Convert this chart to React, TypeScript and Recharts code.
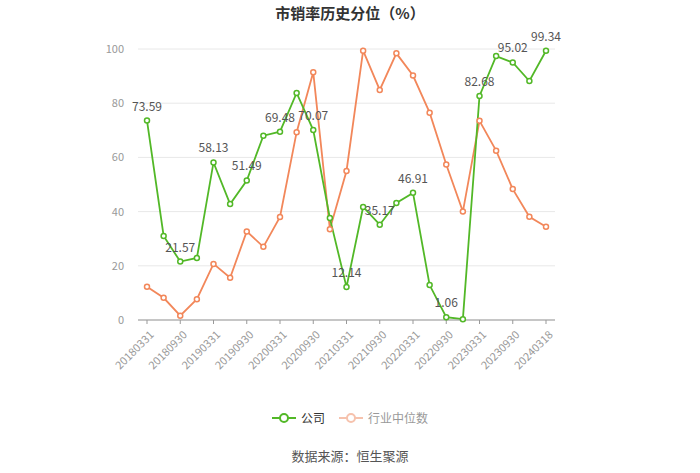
import { LineChart, Line, XAxis, YAxis, CartesianGrid, LabelList } from 'recharts';

const dates = [
  '20180331', '20180630', '20180930', '20181231',
  '20190331', '20190630', '20190930', '20191231',
  '20200331', '20200630', '20200930', '20201231',
  '20210331', '20210630', '20210930', '20211231',
  '20220331', '20220630', '20220930', '20221231',
  '20230331', '20230630', '20230930', '20231231',
  '20240318',
];

const company = [
  73.59, 31.0, 21.57, 22.9, 58.13, 42.8, 51.49, 68.0, 69.48, 83.8, 70.07, 37.6,
  12.14, 41.7, 35.17, 43.2, 46.91, 12.9, 1.06, 0.3, 82.68, 97.4, 95.02, 88.2, 99.34,
];

const industry = [
  12.3, 8.2, 1.6, 7.7, 20.7, 15.6, 32.7, 27.0, 38.0, 69.3, 91.4, 33.5,
  55.0, 99.4, 84.9, 98.4, 90.2, 76.5, 57.4, 40.0, 73.5, 62.5, 48.3, 38.1, 34.4,
];

const yTicks = [0, 20, 40, 60, 80, 100];

const data = dates.map((d, i) => ({ date: d, company: company[i], industry: industry[i] }));

const GREEN = '#52b827';
const ORANGE = '#f2875a';
const FONT = '"Noto Sans CJK SC", "Noto Sans", sans-serif';

function XTick(props: any) {
  const { x, y, payload } = props;
  return (
    <text
      x={x + 4}
      y={y + 6}
      transform={`rotate(-45, ${x + 4}, ${y + 6})`}
      textAnchor="end"
      dominantBaseline="central"
      fontSize={11}
      fill="#999"
      fontFamily={FONT}
    >
      {payload.value}
    </text>
  );
}

function PointLabel(props: any) {
  const { x, y, index, value } = props;
  if (index % 2 !== 0) return null;
  return (
    <text x={x} y={y - 10} textAnchor="middle" fontSize={12} fill="#555" fontFamily={FONT}>
      {value}
    </text>
  );
}

function LegendBox() {
  const item = (color: string, text: string, textColor: string) => (
    <div style={{ display: 'flex', alignItems: 'center', gap: 5 }}>
      <svg width={24} height={12}>
        <line x1={0} y1={6} x2={24} y2={6} stroke={color} strokeWidth={2} />
        <circle cx={12} cy={6} r={4} fill="#fff" stroke={color} strokeWidth={2} />
      </svg>
      <span style={{ fontSize: 12, color: textColor }}>{text}</span>
    </div>
  );
  return (
    <div style={{ display: 'flex', justifyContent: 'center', gap: 14, fontFamily: FONT }}>
      {item(GREEN, '公司', '#333')}
      {item('#f6c2ad', '行业中位数', '#999')}
    </div>
  );
}

export default function App() {
  return (
    <div style={{ position: 'absolute', left: 0, top: 0, width: 700, height: 473, background: '#fff', fontFamily: FONT }}>
      <div style={{ position: 'absolute', top: 2, width: 700, textAlign: 'center', fontSize: 15, fontWeight: 'bold', color: '#333' }}>
        市销率历史分位（%）
      </div>
      <LineChart width={700} height={473} data={data} margin={{ top: 49, right: 145, bottom: 93, left: 98 }}>
        <CartesianGrid vertical={false} stroke="#e8e8e8" />
        <XAxis
          dataKey="date"
          interval={1}
          padding={{ left: 9, right: 9 }}
          tick={<XTick />}
          tickLine={{ stroke: '#999' }}
          axisLine={{ stroke: '#999' }}
          tickSize={4}
          height={60}
        />
        <YAxis
          domain={[0, 100]}
          ticks={yTicks}
          width={40}
          axisLine={false}
          tickLine={false}
          tick={{ fontSize: 11, fill: '#999', fontFamily: FONT }}
          tickMargin={8}
        />
        <Line
          dataKey="industry"
          stroke={ORANGE}
          strokeWidth={1.8}
          dot={{ r: 2.5, fill: '#fff', stroke: ORANGE, strokeWidth: 1.5 }}
          isAnimationActive={false}
        />
        <Line
          dataKey="company"
          stroke={GREEN}
          strokeWidth={1.8}
          dot={{ r: 2.5, fill: '#fff', stroke: GREEN, strokeWidth: 1.5 }}
          isAnimationActive={false}
        >
          <LabelList dataKey="company" content={<PointLabel />} />
        </Line>
      </LineChart>
      <div style={{ position: 'absolute', top: 409, width: 700 }}>
        <LegendBox />
      </div>
      <div style={{ position: 'absolute', top: 446, width: 700, textAlign: 'center', fontSize: 13, color: '#555' }}>
        数据来源：恒生聚源
      </div>
    </div>
  );
}
